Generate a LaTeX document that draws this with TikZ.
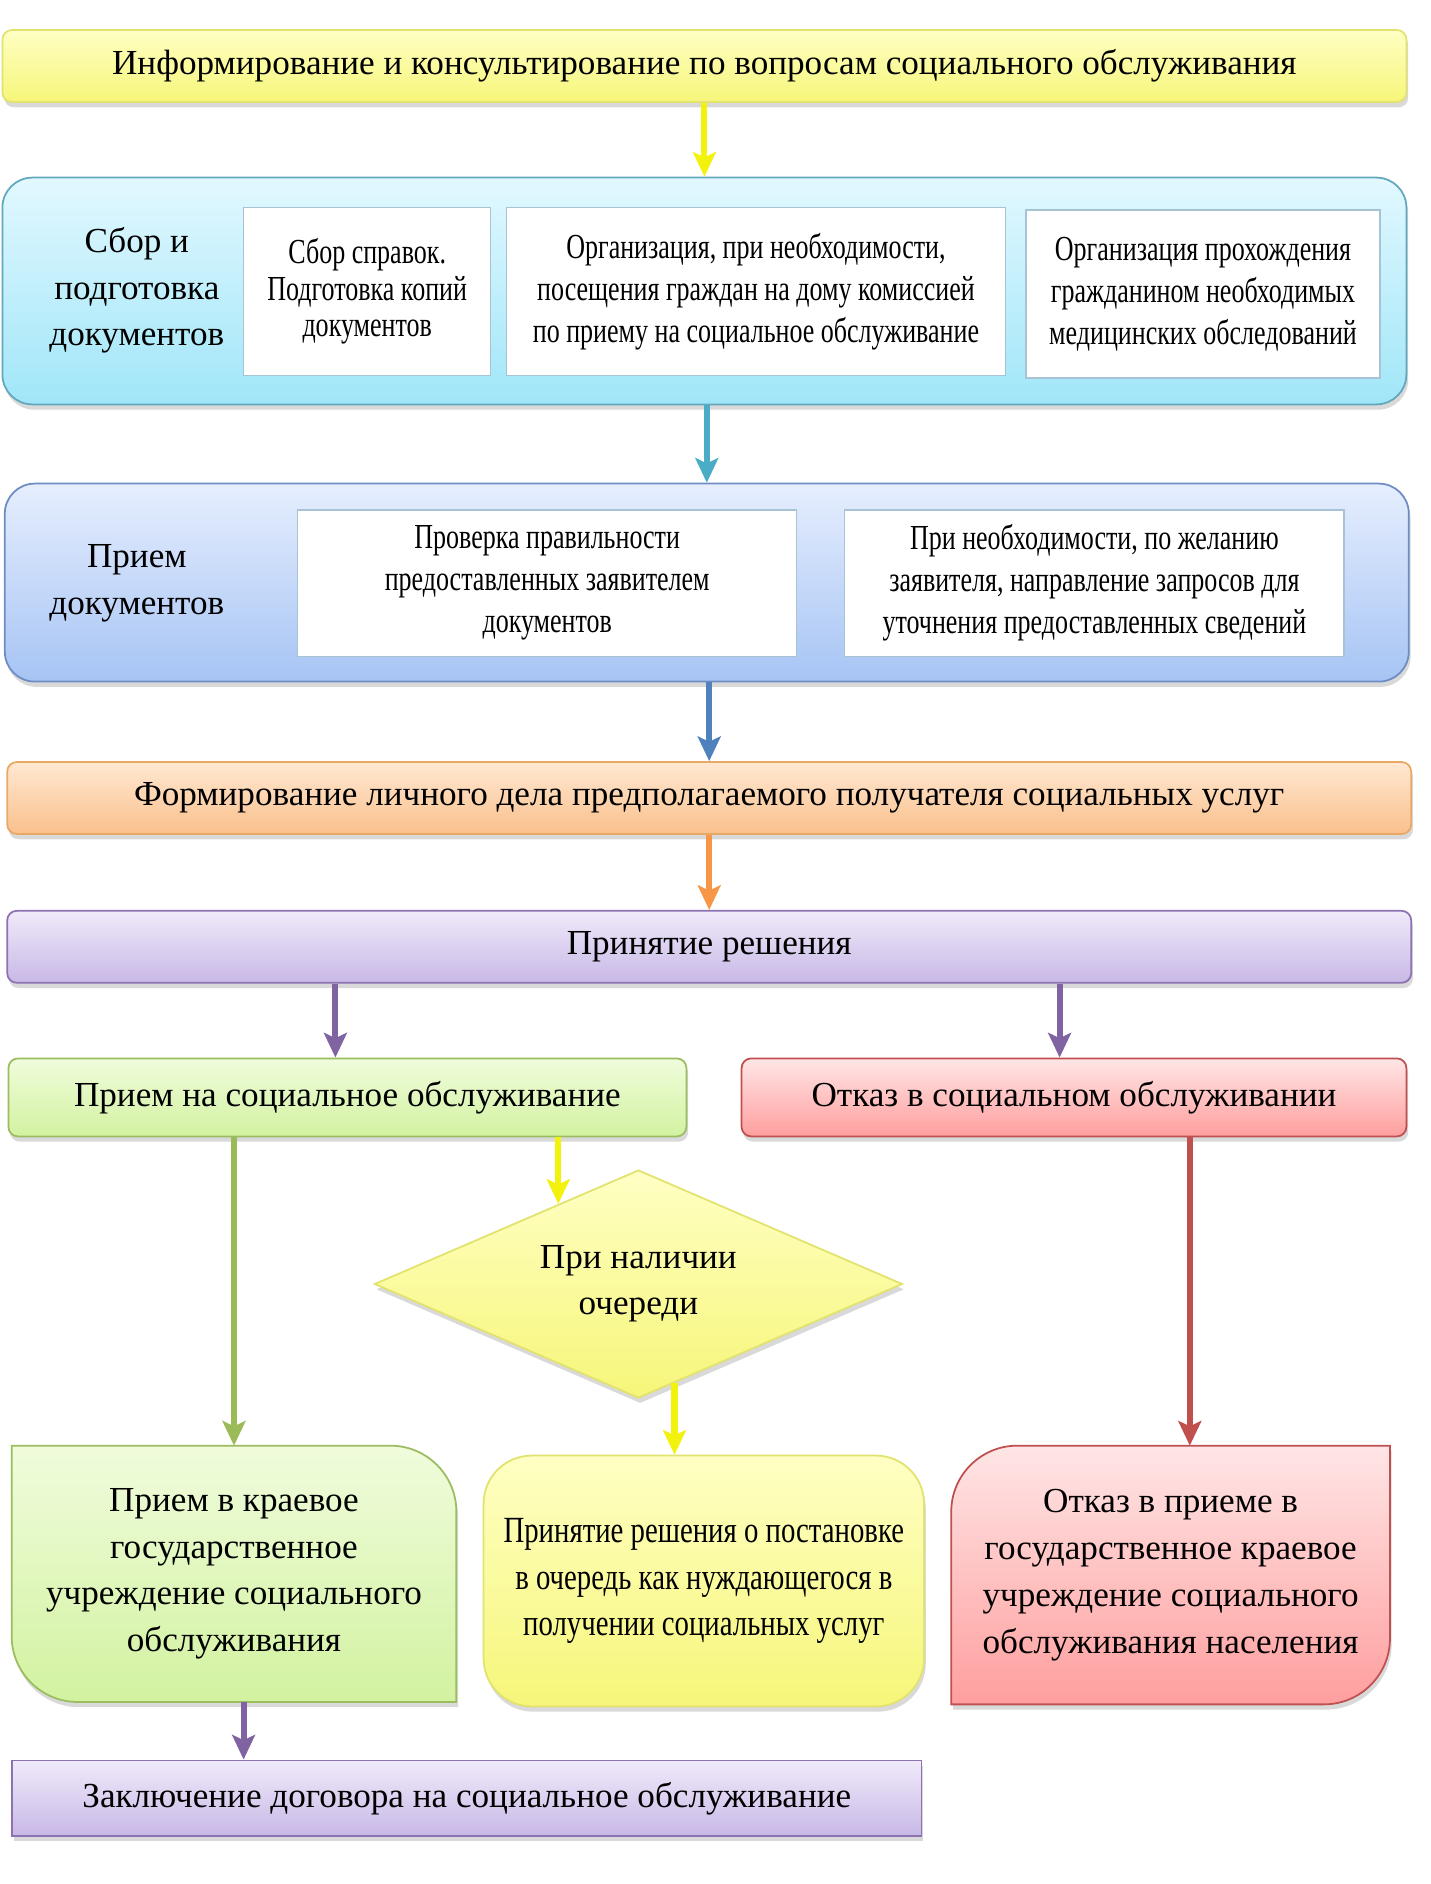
\documentclass[tikz,border=0pt]{standalone}
\usepackage{fontspec}
\setmainfont{Liberation Serif}
\newfontfamily\narrowfont[FakeStretch=0.74]{Liberation Serif}
\newfontfamily\widenarrowfont[FakeStretch=0.78]{Liberation Serif}
\usepackage{tikz}
\usetikzlibrary{positioning}
\usetikzlibrary{shapes.geometric}
\usetikzlibrary{shadows}
\usetikzlibrary{arrows.meta}
\usetikzlibrary{backgrounds}
\newlength\upx
\setlength\upx{0.024cm}
\definecolor{yeltop}{HTML}{FFFFC4}
\definecolor{yelbot}{HTML}{F6F67A}
\definecolor{yelline}{HTML}{E2E26E}
\definecolor{cyantop}{HTML}{E2F8FF}
\definecolor{cyanbot}{HTML}{A0E6F8}
\definecolor{cyanline}{HTML}{62A8BC}
\definecolor{bluetop}{HTML}{E6EEFE}
\definecolor{bluebot}{HTML}{A6C4F4}
\definecolor{blueline}{HTML}{6E8CC4}
\definecolor{orgtop}{HTML}{FFE8D2}
\definecolor{orgbot}{HTML}{FAC08C}
\definecolor{orgline}{HTML}{E8A866}
\definecolor{viotop}{HTML}{F0EAFA}
\definecolor{viobot}{HTML}{C8B8E6}
\definecolor{violine}{HTML}{8C72B0}
\definecolor{grntop}{HTML}{F0FCDC}
\definecolor{grnbot}{HTML}{D2F2A0}
\definecolor{grnline}{HTML}{9CBC60}
\definecolor{redtop}{HTML}{FFE6E6}
\definecolor{redbot}{HTML}{FF9E9E}
\definecolor{redline}{HTML}{C05050}
\definecolor{innerline}{HTML}{A8C4D4}
\definecolor{arryel}{HTML}{F2F20C}
\definecolor{arrteal}{HTML}{4BACC6}
\definecolor{arrblue}{HTML}{4F81BD}
\definecolor{arrorg}{HTML}{F79646}
\definecolor{arrvio}{HTML}{8064A2}
\definecolor{arrgrn}{HTML}{9BBB59}
\definecolor{arrred}{HTML}{C0504D}
\tikzset{
  myarrow/.style={
    line width=3.5pt,
    -{Stealth[length=14pt,width=13pt,inset=3pt]},
  },
  myshadow/.style={
    drop shadow={opacity=0.3, shadow xshift=1pt, shadow yshift=-3pt},
  },
  mybox/.style={
    shape=rectangle,
    rounded corners=8\upx,
    line width=1pt,
    align=center,
    myshadow,
    font=\fontsize{20}{26}\selectfont
  },
  mypanel/.style={
    mybox,
    rounded corners=25\upx,
    minimum width=1170\upx,
  },
  mywhite/.style={
    draw=innerline,
    fill=white,
    shape=rectangle,
    line width=0.6pt,
    align=center,
    inner sep=2pt,
    font=\narrowfont\fontsize{20}{35\upx}\selectfont
  },
  mylabel/.style={
    align=center,
    inner sep=0pt,
    font=\fontsize{20}{26.5}\selectfont
  },
  myshape/.style={
    line width=1pt,
    myshadow,
  }
}

\begin{document}
\begin{tikzpicture}[x=\upx, y=-\upx]
    \useasboundingbox (0,0) rectangle (1192.5,1570);

    \node [mybox, draw=yelline, top color=yeltop, bottom color=yelbot, minimum width=1170\upx, minimum height=60\upx] (info) at (587,55) {Информирование и консультирование по вопросам социального обслуживания};

    \node [mypanel, draw=cyanline, top color=cyantop, bottom color=cyanbot, minimum height=189\upx] (collect) at (587,242.5) {};
    \node [mylabel] (collectlbl) at (114,242) {Сбор и\\подготовка\\документов};
    \node [mywhite, minimum width=206\upx, minimum height=140\upx, font=\narrowfont\fontsize{20}{30.5\upx}\selectfont] (papers) at (306,243) {Сбор справок.\\Подготовка копий\\документов};
    \node [mywhite, minimum width=416\upx, minimum height=140\upx] (visit) at (630,243) {Организация, при необходимости,\\посещения граждан на дому комиссией\\по приему на социальное обслуживание};
    \node [mywhite, minimum width=295\upx, minimum height=140\upx] (medical) at (1002.5,245) {Организация прохождения\\гражданином необходимых\\медицинских обследований};

    \node [mypanel, draw=blueline, top color=bluetop, bottom color=bluebot, minimum height=165\upx] (reception) at (589,485.5) {};
    \node [mylabel] (receptionlbl) at (114,486) {Прием\\документов};
    \node [mywhite, minimum width=416\upx, minimum height=122\upx] (check) at (456,486) {Проверка правильности\\предоставленных заявителем\\документов};
    \node [mywhite, minimum width=416\upx, minimum height=122\upx] (query) at (912,486) {При необходимости, по желанию\\заявителя, направление запросов для\\уточнения предоставленных сведений};

    \node [mybox, draw=orgline, top color=orgtop, bottom color=orgbot, minimum width=1170\upx, minimum height=60\upx] (dossier) at (591,665) {Формирование личного дела предполагаемого получателя социальных услуг};
    \node [mybox, draw=violine, top color=viotop, bottom color=viobot, minimum width=1170\upx, minimum height=60\upx] (decision) at (591,789) {Принятие решения};

    \node [mybox, draw=grnline, top color=grntop, bottom color=grnbot, minimum width=565\upx, minimum height=65\upx] (accept) at (289.5,914.5) {Прием на социальное обслуживание};
    \node [mybox, draw=redline, top color=redtop, bottom color=redbot, minimum width=554\upx, minimum height=65\upx] (refuse) at (895,914.5) {Отказ в социальном обслуживании};

    \node [diamond, aspect=2.3, inner sep=0pt, line width=1pt, myshadow, align=center, font=\fontsize{20}{38\upx}\selectfont, draw=yelline, top color=yeltop, bottom color=yelbot, minimum width=440\upx, minimum height=190\upx] (queue) at (532,1070) {При наличии\\очереди};

    \node [mylabel, minimum width=370\upx, minimum height=213\upx, font=\fontsize{20}{39\upx}\selectfont] (grant) at (195,1311.5) {Прием в краевое\\государственное\\учреждение социального\\обслуживания};
    \node [mybox, rounded corners=40\upx, draw=yelline, top color=yeltop, bottom color=yelbot, minimum width=367\upx, minimum height=209\upx, font=\widenarrowfont\fontsize{21}{39\upx}\selectfont] (wait) at (586.5,1317.5) {Принятие решения о постановке\\в очередь как нуждающегося в\\получении социальных услуг};
    \node [mylabel, minimum width=365\upx, minimum height=215\upx, font=\fontsize{20}{39\upx}\selectfont] (deny) at (975.5,1312.5) {Отказ в приеме в\\государственное краевое\\учреждение социального\\обслуживания населения};

    \node [mybox, rounded corners=0pt, draw=violine, top color=viotop, bottom color=viobot, minimum width=758\upx, minimum height=63\upx] (contract) at (389,1498.5) {Заключение договора на социальное обслуживание};

    \begin{scope}[on background layer]
      \path [myshape, draw=grnline, top color=grntop, bottom color=grnbot] (grant.north west) -- ([xshift=-55\upx]grant.north east) arc[start angle=90, end angle=0, radius=55\upx] -- (grant.south east) -- ([xshift=55\upx]grant.south west) arc[start angle=270, end angle=180, radius=55\upx] -- cycle;
      \path [myshape, draw=redline, top color=redtop, bottom color=redbot] ([xshift=55\upx]deny.north west) -- (deny.north east) -- ([yshift=55\upx]deny.south east) arc[start angle=0, end angle=-90, radius=55\upx] -- (deny.south west) -- ([yshift=-55\upx]deny.north west) arc[start angle=180, end angle=90, radius=55\upx] -- cycle;
    \end{scope}

    \draw [myarrow, arryel] (info) -- (collect);
    \draw [myarrow, arrteal] (collect.south -| reception.north) -- (reception.north);
    \draw [myarrow, arrblue] (reception.south -| dossier.north) -- (dossier.north);
    \draw [myarrow, arrorg] (dossier) -- (decision);
    \draw [myarrow, arrvio] ([xshift=-10\upx]decision.south -| accept.north) -- ([xshift=-10\upx]accept.north);
    \draw [myarrow, arrvio] ([xshift=-12\upx]decision.south -| refuse.north) -- ([xshift=-12\upx]refuse.north);
    \draw [myarrow, arrgrn] (accept.south -| grant.north) -- (grant.north);
    \draw [myarrow, arryel] (accept.south -| queue.135) -- (queue.135);
    \draw [myarrow, arryel] (queue.-70) -- (queue.-70 |- wait.north);
    \draw [myarrow, arrred] ([xshift=16\upx]refuse.south -| deny.north) -- ([xshift=16\upx]deny.north);
    \draw [myarrow, arrvio] ([xshift=8\upx]grant.south) -- ([xshift=8\upx]grant.south |- contract.north);

  \end{tikzpicture}
\end{document}
